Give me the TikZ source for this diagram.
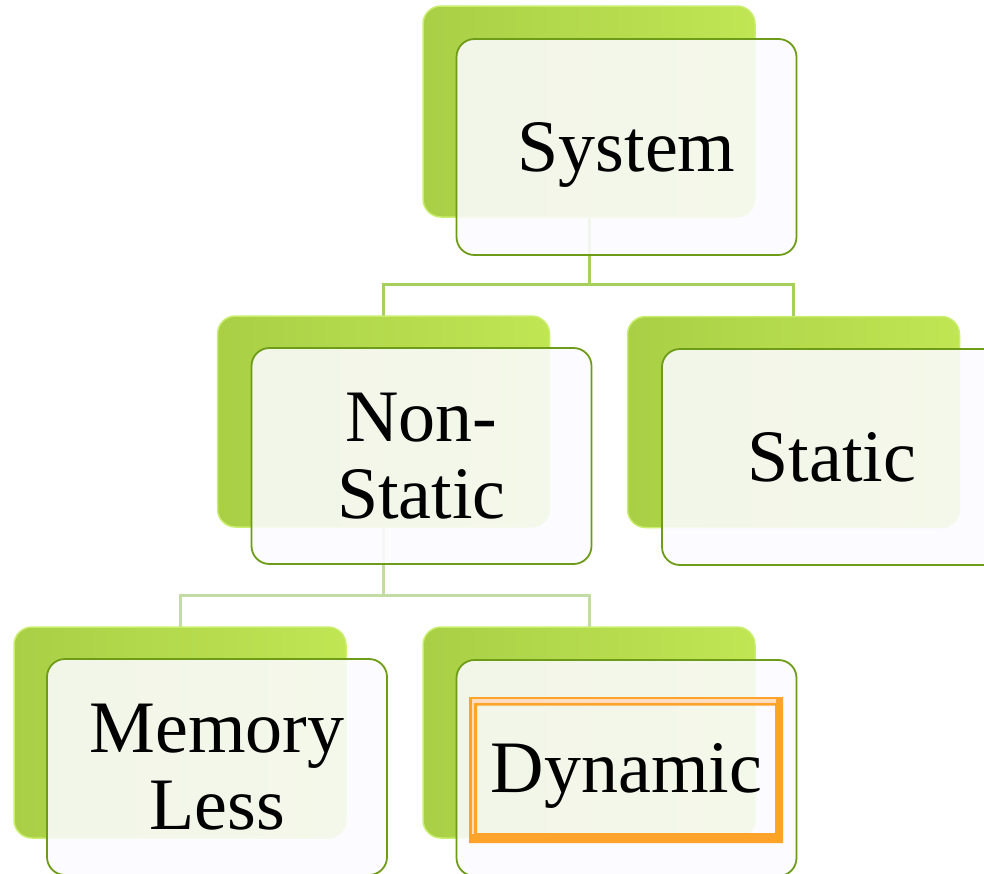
\documentclass[tikz,border=0pt]{standalone}
\usepackage{fontspec}
\setmainfont{Liberation Serif}
\usetikzlibrary{backgrounds}
\definecolor{greenL}{HTML}{A9CF46}
\definecolor{greenM}{HTML}{B4DA4D}
\definecolor{greenR}{HTML}{C0E654}
\definecolor{greenedge}{HTML}{C8EE6C}
\definecolor{frontfill}{HTML}{FCFBFF}
\definecolor{frontedge}{HTML}{6F9C18}
\definecolor{connA}{HTML}{A6CF5C}
\definecolor{connB}{HTML}{C2DCA4}
\definecolor{orangeA}{HTML}{FFA32A}
\definecolor{orangeP}{HTML}{FFDDBE}
\begin{document}
\begin{tikzpicture}[x=1pt,y=-1pt,
  back/.style={rounded corners=18pt, minimum width=332pt, minimum height=211pt,
    inner sep=0pt, outer sep=0pt, draw=greenedge, line width=1.5pt,
    left color=greenL, middle color=greenM, right color=greenR},
  front/.style={rounded corners=18pt, minimum width=340pt, minimum height=216pt,
    inner sep=0pt, outer sep=0pt, draw=frontedge, line width=1.8pt,
    fill=frontfill, fill opacity=0.88, text opacity=1,
    font=\fontsize{74}{77}\selectfont, align=center},
  connup/.style={line width=3pt, draw=connA},
  conndown/.style={line width=3pt, draw=connB},
]
\useasboundingbox (0,0) rectangle (984,873);
\clip (0,0) rectangle (984,873);

% System
\node[back] (gSys) at (589,111.5) {};
\node[front, text depth=0pt] (fSys) at (626.5,147) {System};

% Non-Static
\node[back] (gNon) at (383.5,421.5) {};
\node[front] (fNon) at (421.5,456) {Non-\\Static};

% Static
\node[back] (gSta) at (793.5,422) {};
\node[front, text depth=0pt] (fSta) at (832,457) {Static};

% Memory Less
\node[back] (gMem) at (180,732.5) {};
\node[front] (fMem) at (217,767) {Memory\\Less};

% Dynamic
\node[back] (gDyn) at (589,732.5) {};
\node[front, text depth=0pt] (fDyn) at (626.5,768) {Dynamic};

% orange selection frame
\fill[orangeA, even odd rule] (469,697) rectangle (783,843) (477,705.5) rectangle (775,833);
\fill[orangeP] (471.7,699.3) rectangle (776,702.5);
\fill[orangeP] (471.7,699.3) rectangle (474.3,834);

% connectors
\begin{scope}[on background layer]
\coordinate (busA) at (589,284.5);
\coordinate (busB) at (383.5,595);
\draw[connup] (gSys.south) -- (busA) -| (gNon.north);
\draw[connup] (busA) -| (gSta.north);
\draw[conndown] (gNon.south) -- (busB) -| (gMem.north);
\draw[conndown] (busB) -| (gDyn.north);
\end{scope}
\end{tikzpicture}
\end{document}
